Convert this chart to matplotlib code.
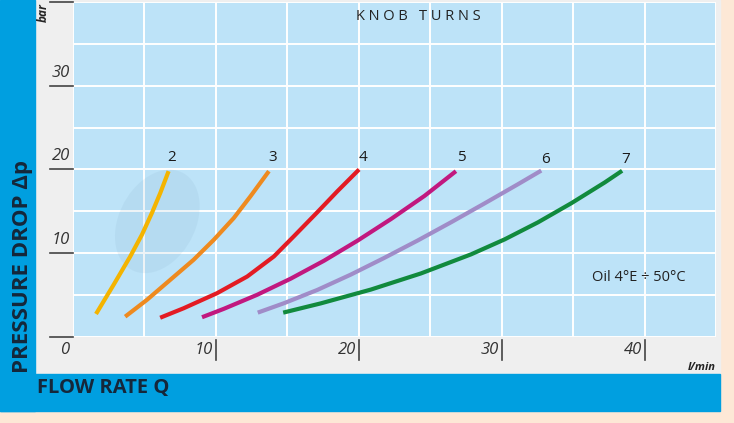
import matplotlib
matplotlib.use("Agg")
from matplotlib import pyplot as plt
from matplotlib.patches import Rectangle, Ellipse

plt.rcParams['font.family'] = ['Open Sans', 'DejaVu Sans']

# knob turn curves: flow rate (l/min) vs pressure drop (bar)
turns = ['2', '3', '4', '5', '6', '7']
colors = ['#f4b400', '#ee8a1f', '#e31b23', '#c1187f', '#a08cc8', '#118a3d']

q2 = [1.61, 2.83, 4.0, 4.82, 5.52, 6.11, 6.69]
p2 = [2.75, 6.2, 9.6, 12.2, 14.8, 17.2, 19.8]
q3 = [3.65, 5.17, 6.81, 8.44, 9.85, 11.25, 12.42, 13.71]
p3 = [2.43, 4.43, 6.83, 9.22, 11.6, 14.2, 16.8, 19.8]
q4 = [6.1, 7.74, 10.08, 12.19, 14.06, 15.5, 17.1, 18.5, 20.02]
p4 = [2.3, 3.43, 5.23, 7.22, 9.62, 12.1, 14.9, 17.4, 20.0]
q5 = [9.03, 10.55, 12.89, 15.23, 17.57, 19.9, 22.25, 24.6, 26.8]
p5 = [2.36, 3.36, 5.04, 6.96, 9.11, 11.49, 14.08, 16.85, 19.8]
q6 = [12.93, 14.76, 17.1, 19.44, 21.78, 24.12, 26.46, 28.79, 31.14, 32.77]
p6 = [2.91, 4.03, 5.62, 7.45, 9.44, 11.52, 13.7, 15.94, 18.24, 19.87]
q7 = [14.71, 17.33, 20.84, 24.35, 27.86, 30.2, 32.54, 34.88, 37.21, 38.43]
p7 = [2.91, 4.01, 5.66, 7.59, 9.87, 11.65, 13.69, 15.98, 18.45, 19.85]
curves_q = [q2, q3, q4, q5, q6, q7]
curves_p = [p2, p3, p4, p5, p6, p7]

label_q = [6.9, 14.0, 20.3, 27.2, 33.1, 38.7]
label_p = [21.4, 21.4, 21.4, 21.4, 21.2, 21.2]

xticks = [10, 20, 30, 40]
yticks = [0, 10, 20, 30, 40]

W, H = 734, 423
fig = plt.figure(figsize=(W / 100, H / 100), dpi=100)
fig.patch.set_facecolor('#fde8d6')

def px_rect(x0, y0, x1, y1, color):
    # rectangle given in pixel coords (origin top-left)
    fig.patches.append(Rectangle((x0 / W, 1 - y1 / H), (x1 - x0) / W, (y1 - y0) / H,
                                 transform=fig.transFigure, color=color, zorder=-1))

px_rect(35, 0, 720, 374, '#efefef')
px_rect(0, 374, 720, 411, '#009fe0')
px_rect(0, 0, 35, 411, '#009fe0')

ax = fig.add_axes([73 / W, 1 - 337 / H, (716 - 73) / W, (337 - 2) / H])
ax.set_facecolor('#bde3f8')
ax.set_xlim(0, 45)
ax.set_ylim(0, 40)
ax.set_xticks(range(0, 46, 5))
ax.set_yticks(range(0, 41, 5))
ax.grid(True, color='white', linewidth=1.4)
ax.set_axisbelow(True)
ax.tick_params(length=0, labelbottom=False, labelleft=False)
for s in ax.spines.values():
    s.set_visible(False)

# faint watermark blob
ax.add_patch(Ellipse((5.9, 13.8), 5.6, 12.5, angle=-10, color='#7fa9c4', alpha=0.12,
                     linewidth=0, zorder=2))

for q, p, c in zip(curves_q, curves_p, colors):
    ax.plot(q, p, color=c, linewidth=3.0, solid_capstyle='butt', solid_joinstyle='round', zorder=3)

for t, x, y in zip(turns, label_q, label_p):
    ax.text(x, y, t, fontsize=11, color='#1a1a1a', ha='center', va='center')

ax.text(36.3, 7.1, 'Oil 4°E ÷ 50°C', fontsize=10.5, color='#222222', ha='left', va='center')

# y ticks: short line left of the axis, label sitting on it
ytr = ax.get_yaxis_transform()
for y in yticks:
    ax.plot([-23 / 643, 0], [y, y], transform=ytr, color='#444444', linewidth=1.2, clip_on=False)
    if 0 < y < 40:
        ax.text(-12 / 643, y + 0.6, str(y), transform=ytr, fontsize=12, style='italic',
                color='#333333', ha='center', va='bottom')
ax.text(-8 / 643, -0.04, '0', transform=ax.transAxes, fontsize=12, style='italic',
        color='#333333', ha='center', va='center')

# x ticks: vertical bar below the axis, label left of it
xtr = ax.get_xaxis_transform()
for x in xticks:
    ax.plot([x, x], [-3 / 335, -23 / 335], transform=xtr, color='#444444', linewidth=1.2, clip_on=False)
    ax.text(x - 0.2, -0.04, str(x), transform=xtr, fontsize=12, style='italic',
            color='#333333', ha='right', va='center')

fig.text(418 / W, 1 - 17 / H, 'K N O B   T U R N S', fontsize=10.5, color='#222222',
         ha='center', va='center')
fig.text(43 / W, 1 - 13 / H, 'bar', fontsize=8.5, style='italic', weight='bold',
         rotation=90, color='#222222', ha='center', va='center')
fig.text(702 / W, 1 - 367 / H, 'l/min', fontsize=8, style='italic', weight='bold',
         color='#222222', ha='center', va='center')
fig.text(23 / W, 1 - 266 / H, 'PRESSURE DROP Δp', fontsize=16, weight='bold',
         rotation=90, color='#15273a', ha='center', va='center')
fig.text(37 / W, 1 - 388 / H, 'FLOW RATE Q', fontsize=14.5, weight='bold',
         color='#15273a', ha='left', va='center')

fig.savefig('out.png', dpi=100, facecolor=fig.get_facecolor())
